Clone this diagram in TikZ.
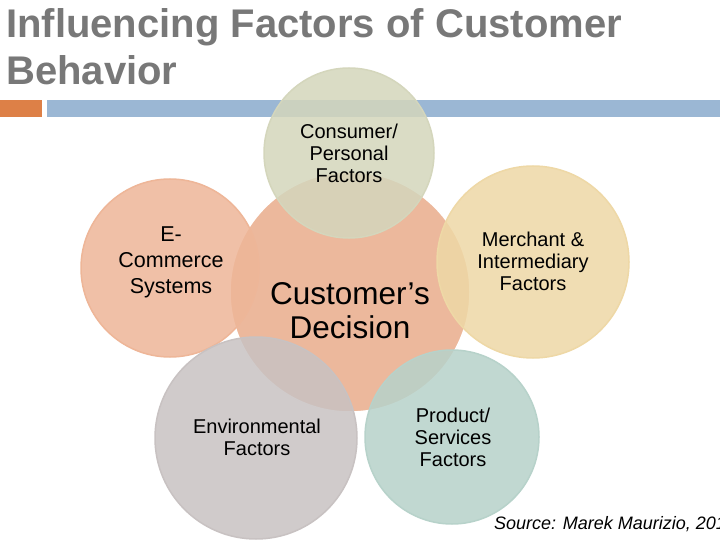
\documentclass[tikz,border=0pt]{standalone}
\usepackage{fontspec}
\setmainfont{Liberation Sans}
\begin{document}
\begin{tikzpicture}[x=1pt,y=-1pt,
  circ/.style={draw=white,line width=1.5pt,fill opacity=0.85},
  lab/.style={align=center,text=black}]
\useasboundingbox (0,0) rectangle (720,540);
\fill[white] (0,0) rectangle (720,540);
\definecolor{ttl}{RGB}{120,120,120}
\node[anchor=north west,align=left,inner sep=0,text=ttl,font=\bfseries\fontsize{40}{47}\selectfont] (title) at (6,8) {Influencing Factors of Customer\\Behavior};
\fill[color={rgb,255:red,221;green,128;blue,71}] (0,100) rectangle (42,117);
\fill[color={rgb,255:red,155;green,183;blue,212}] (47,100) rectangle (720,117);
\definecolor{cc}{RGB}{236,184,156}
\definecolor{ct}{RGB}{212,214,188}
\definecolor{cl}{RGB}{238,182,152}
\definecolor{cr}{RGB}{238,216,166}
\definecolor{cbl}{RGB}{200,194,194}
\definecolor{cbr}{RGB}{183,210,202}
\fill[cc,draw=white,line width=1.5pt] (350,292) circle (120);
\fill[circ,ct] (349,153) circle (85);
\fill[circ,cl] (170,268) circle (89);
\fill[circ,cr] (533,262) circle (96);
\fill[circ,cbl] (256,438) circle (101);
\fill[circ,cbr] (452,437) circle (87);
\node[lab,font=\fontsize{31.5}{34}\selectfont] (c) at (350,311) {Customer’s\\Decision};
\node[lab,font=\fontsize{21.5}{26}\selectfont] (l) at (171,262) {E-\\Commerce\\Systems};
\node[lab,font=\fontsize{20}{22}\selectfont] (t) at (349,153) {Consumer/\\Personal\\Factors};
\node[lab,font=\fontsize{20}{22}\selectfont] (r) at (533,261) {Merchant \&\\Intermediary\\Factors};
\node[lab,font=\fontsize{20}{22}\selectfont] (bl) at (257,437) {Environmental\\Factors};
\node[lab,font=\fontsize{20}{22}\selectfont] (br) at (453,437) {Product/\\Services\\Factors};
\node[anchor=west,inner sep=0,font=\itshape\fontsize{18}{20}\selectfont] (src) at (494,524) {Source: Marek Maurizio, 2012};
\end{tikzpicture}
\end{document}
